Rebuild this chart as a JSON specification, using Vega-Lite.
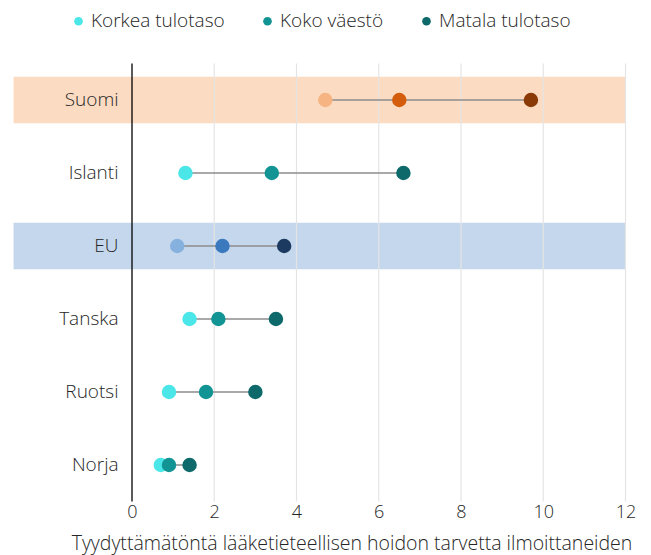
{
  "$schema": "https://vega.github.io/schema/vega-lite/v6.json",
  "autosize": {"type": "none"},
  "padding": {"left": 132, "top": 63.5, "right": 25.5, "bottom": 53.5},
  "width": 493.5,
  "height": 438,
  "config": {
    "font": "Open Sans",
    "view": {"stroke": null},
    "axis": {"labelColor": "#262626", "titleColor": "#262626", "labelFont": "Open Sans", "titleFont": "Open Sans", "labelFontWeight": 300, "titleFontWeight": 300},
    "legend": {"labelFont": "Open Sans", "labelFontWeight": 300}
  },
  "datasets": {
    "arvot": [
      {"maa": "Suomi", "ryhma": "Korkea tulotaso", "vari": "Suomi Korkea", "arvo": 4.7},
      {"maa": "Suomi", "ryhma": "Koko väestö", "vari": "Suomi Koko", "arvo": 6.5},
      {"maa": "Suomi", "ryhma": "Matala tulotaso", "vari": "Suomi Matala", "arvo": 9.7},
      {"maa": "Islanti", "ryhma": "Korkea tulotaso", "vari": "Korkea tulotaso", "arvo": 1.3},
      {"maa": "Islanti", "ryhma": "Koko väestö", "vari": "Koko väestö", "arvo": 3.4},
      {"maa": "Islanti", "ryhma": "Matala tulotaso", "vari": "Matala tulotaso", "arvo": 6.6},
      {"maa": "EU", "ryhma": "Korkea tulotaso", "vari": "EU Korkea", "arvo": 1.1},
      {"maa": "EU", "ryhma": "Koko väestö", "vari": "EU Koko", "arvo": 2.2},
      {"maa": "EU", "ryhma": "Matala tulotaso", "vari": "EU Matala", "arvo": 3.7},
      {"maa": "Tanska", "ryhma": "Korkea tulotaso", "vari": "Korkea tulotaso", "arvo": 1.4},
      {"maa": "Tanska", "ryhma": "Koko väestö", "vari": "Koko väestö", "arvo": 2.1},
      {"maa": "Tanska", "ryhma": "Matala tulotaso", "vari": "Matala tulotaso", "arvo": 3.5},
      {"maa": "Ruotsi", "ryhma": "Korkea tulotaso", "vari": "Korkea tulotaso", "arvo": 0.9},
      {"maa": "Ruotsi", "ryhma": "Koko väestö", "vari": "Koko väestö", "arvo": 1.8},
      {"maa": "Ruotsi", "ryhma": "Matala tulotaso", "vari": "Matala tulotaso", "arvo": 3.0},
      {"maa": "Norja", "ryhma": "Korkea tulotaso", "vari": "Korkea tulotaso", "arvo": 0.7},
      {"maa": "Norja", "ryhma": "Koko väestö", "vari": "Koko väestö", "arvo": 0.9},
      {"maa": "Norja", "ryhma": "Matala tulotaso", "vari": "Matala tulotaso", "arvo": 1.4}
    ],
    "korostus": [
      {"maa": "Suomi"},
      {"maa": "EU"}
    ],
    "ruudukko": [
      {"arvo": 2}, {"arvo": 4}, {"arvo": 6}, {"arvo": 8}, {"arvo": 10}, {"arvo": 12}
    ]
  },
  "encoding": {
    "y": {
      "field": "maa",
      "type": "nominal",
      "scale": {"domain": ["Suomi", "Islanti", "EU", "Tanska", "Ruotsi", "Norja"], "paddingInner": 0.36, "paddingOuter": 0.18},
      "axis": {"title": null, "ticks": false, "domain": false, "labelPadding": 14, "labelFontSize": 19, "grid": false}
    }
  },
  "layer": [
    {
      "data": {"name": "korostus"},
      "mark": {"type": "rect"},
      "encoding": {
        "x": {
          "datum": -2.88,
          "type": "quantitative",
          "scale": {"domain": [0, 12], "nice": false, "zero": false},
          "axis": {
            "values": [0, 2, 4, 6, 8, 10, 12],
            "grid": false,
            "ticks": false,
            "domain": false,
            "labelFlush": false,
            "labelPadding": 2,
            "labelFontSize": 18,
            "title": "Tyydyttämätöntä lääketieteellisen hoidon tarvetta ilmoittaneiden",
            "titleFontSize": 19.5,
            "titleX": 219.5,
            "titleY": 48,
            "titleAlign": "center",
            "titleBaseline": "alphabetic"
          }
        },
        "x2": {"datum": 12},
        "fill": {"condition": {"test": "datum.maa === 'Suomi'", "value": "#fbdbc2"}, "value": "#c5d7ec"}
      }
    },
    {
      "data": {"name": "ruudukko"},
      "mark": {"type": "rule", "color": "#e4e4e4", "strokeWidth": 1.2},
      "encoding": {
        "x": {"field": "arvo", "type": "quantitative"},
        "y": null
      }
    },
    {
      "data": {"values": [{}]},
      "mark": {"type": "rule", "color": "#000000", "strokeWidth": 1.3},
      "encoding": {
        "x": {"datum": 0, "type": "quantitative"},
        "y": null
      }
    },
    {
      "data": {"name": "arvot"},
      "mark": {"type": "rule", "color": "#8c8c8c", "strokeWidth": 1.5},
      "encoding": {
        "x": {"aggregate": "min", "field": "arvo", "type": "quantitative"},
        "x2": {"aggregate": "max", "field": "arvo"}
      }
    },
    {
      "data": {"name": "arvot"},
      "mark": {"type": "circle", "size": 210, "opacity": 1},
      "encoding": {
        "x": {"field": "arvo", "type": "quantitative"},
        "color": {
          "field": "vari",
          "type": "nominal",
          "scale": {
            "domain": ["Korkea tulotaso", "Koko väestö", "Matala tulotaso", "Suomi Korkea", "Suomi Koko", "Suomi Matala", "EU Korkea", "EU Koko", "EU Matala"],
            "range": ["#4ae6e8", "#139494", "#0e6a6a", "#f6b482", "#d35d0d", "#8a3a07", "#86b1de", "#3b79bf", "#1c3a5f"]
          },
          "legend": {
            "title": null,
            "values": ["Korkea tulotaso", "Koko väestö", "Matala tulotaso"],
            "orient": "none",
            "direction": "horizontal",
            "columns": 3,
            "legendX": -63,
            "legendY": -52,
            "symbolType": "circle",
            "symbolSize": 75,
            "symbolStrokeWidth": 0,
            "labelFontSize": 19,
            "labelColor": "#262626",
            "labelOffset": 3,
            "columnPadding": 33
          }
        },
        "order": {"field": "arvo", "type": "quantitative"}
      }
    }
  ]
}
